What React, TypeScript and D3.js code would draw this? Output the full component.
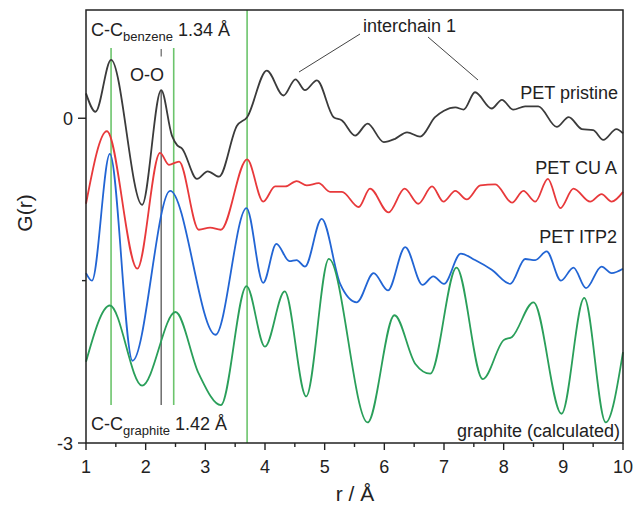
import React from "react";
import * as d3 from "d3";

const W = 635;
const H = 508;
const M = { left: 86, right: 623, top: 10, bottom: 443 };

const xDomain: [number, number] = [1, 10];
const yDomain: [number, number] = [-3, 1];
const xTicks = [1, 2, 3, 4, 5, 6, 7, 8, 9, 10];
const xMinorTicks = [1.5, 2.5, 3.5, 4.5, 5.5, 6.5, 7.5, 8.5, 9.5];
const yTicks = [0, -3];
const yMinorTicks = [-1.5];

// [r, G(r)]
const petPristine: [number, number][] = [
  [1.0, 0.23], [1.16, 0.06], [1.42, 0.54], [1.94, -0.8], [2.26, 0.26], [2.44, -0.16],
  [2.53, -0.25], [2.61, -0.28], [2.86, -0.56], [3.04, -0.49], [3.23, -0.54], [3.53, -0.07],
  [3.7, 0.01], [4.03, 0.44], [4.31, 0.21], [4.51, 0.36], [4.67, 0.26], [4.87, 0.35],
  [5.15, 0.01], [5.29, -0.02], [5.51, -0.16], [5.72, -0.05], [5.99, -0.22], [6.18, -0.19],
  [6.38, -0.13], [6.6, -0.17], [6.85, 0.01], [7.0, 0.07], [7.19, 0.1], [7.33, 0.08],
  [7.52, 0.24], [7.8, 0.09], [7.97, 0.17], [8.16, 0.08], [8.36, 0.11], [8.58, 0.11],
  [8.89, -0.08], [9.09, 0.01], [9.31, -0.1], [9.5, -0.11], [9.67, -0.2], [9.89, -0.1],
  [10.0, -0.14],
];

const petCuA: [number, number][] = [
  [1.0, -0.79], [1.35, -0.12], [1.86, -1.39], [2.24, -0.32], [2.39, -0.43], [2.56, -0.4],
  [2.89, -1.03], [3.08, -1.01], [3.26, -1.03], [3.7, -0.38], [3.97, -0.77], [4.17, -0.63],
  [4.34, -0.63], [4.53, -0.58], [4.7, -0.62], [4.9, -0.6], [5.09, -0.68], [5.29, -0.68],
  [5.57, -0.82], [5.76, -0.65], [6.07, -0.87], [6.34, -0.65], [6.57, -0.79], [6.8, -0.63],
  [6.99, -0.77], [7.19, -0.67], [7.38, -0.75], [7.61, -0.62], [7.86, -0.61], [8.14, -0.78],
  [8.33, -0.67], [8.53, -0.77], [8.74, -0.56], [8.95, -0.83], [9.17, -0.65], [9.45, -0.77],
  [9.64, -0.7], [9.81, -0.77], [10.0, -0.68],
];

const petItp2: [number, number][] = [
  [1.0, -1.43], [1.1, -1.5], [1.4, -0.33], [1.78, -2.24], [2.41, -0.67], [3.17, -2.0],
  [3.69, -0.83], [3.97, -1.52], [4.19, -1.16], [4.41, -1.32], [4.53, -1.31], [4.67, -1.37],
  [4.95, -0.93], [5.26, -1.53], [5.54, -1.7], [5.82, -1.43], [6.06, -1.59], [6.35, -1.19],
  [6.64, -1.54], [6.82, -1.46], [7.0, -1.53], [7.28, -1.25], [7.52, -1.31], [7.8, -1.4],
  [8.11, -1.53], [8.36, -1.3], [8.53, -1.31], [8.72, -1.23], [8.96, -1.5], [9.17, -1.38],
  [9.38, -1.57], [9.64, -1.37], [9.81, -1.43], [10.0, -1.39],
];

const graphite: [number, number][] = [
  [1.0, -2.25], [1.4, -1.73], [1.94, -2.47], [2.5, -1.79], [2.89, -2.36], [3.26, -2.65],
  [3.69, -1.55], [4.0, -2.11], [4.33, -1.6], [4.69, -2.57], [5.07, -1.3], [5.72, -2.81],
  [6.17, -1.82], [6.52, -2.27], [6.77, -2.36], [7.21, -1.38], [7.65, -2.41], [8.0, -2.05],
  [8.14, -2.02], [8.5, -1.7], [8.97, -2.73], [9.35, -1.66], [9.71, -2.81], [10.0, -2.16],
];

const series = [
  { name: "PET pristine", data: petPristine, color: "#3b3b3b" },
  { name: "PET CU A", data: petCuA, color: "#e8393b" },
  { name: "PET ITP2", data: petItp2, color: "#2265d4" },
  { name: "graphite (calculated)", data: graphite, color: "#2a9f5a" },
];

// reference lines: r, G from, G to
const refLinesGreen: [number, number, number][] = [
  [1.42, 0.65, -2.65],
  [2.47, 0.65, -2.65],
  [3.7, 1, -3],
];
const refLineOO: [number, number, number] = [2.26, 0.26, -2.65];
const refTickOO: [number, number, number] = [2.26, 0.64, 0.57];

export default function App() {
  const x = d3.scaleLinear().domain(xDomain).range([M.left, M.right]);
  const y = d3.scaleLinear().domain(yDomain).range([M.bottom, M.top]);
  const line = d3
    .line<[number, number]>()
    .x((d) => x(d[0]))
    .y((d) => y(d[1]))
    .curve(d3.curveMonotoneX);

  const font = "'Liberation Sans', Arial, sans-serif";
  const fs = 18;

  return (
    <svg
      width={W}
      height={H}
      style={{ position: "absolute", left: 0, top: 0, background: "#fff" }}
      fontFamily={font}
    >
      <rect x={0} y={0} width={W} height={H} fill="#fff" />
      {refLinesGreen.map((l, i) => (
        <line
          key={"g" + i}
          x1={x(l[0])}
          x2={x(l[0])}
          y1={y(l[1])}
          y2={y(l[2])}
          stroke="#6cc46c"
          strokeWidth={1.6}
        />
      ))}
      <line x1={x(refLineOO[0])} x2={x(refLineOO[0])} y1={y(refLineOO[1])} y2={y(refLineOO[2])} stroke="#555" strokeWidth={1.3} />
      <line x1={x(refTickOO[0])} x2={x(refTickOO[0])} y1={y(refTickOO[1])} y2={y(refTickOO[2])} stroke="#555" strokeWidth={1.1} />

      {series.map((s) => (
        <path key={s.name} d={line(s.data) || ""} fill="none" stroke={s.color} strokeWidth={1.8} />
      ))}

      {/* frame */}
      <rect
        x={M.left}
        y={M.top}
        width={M.right - M.left}
        height={M.bottom - M.top}
        fill="none"
        stroke="#222"
        strokeWidth={1.5}
      />

      {/* x ticks */}
      {xTicks.map((t) => (
        <g key={"xt" + t}>
          <line x1={x(t)} x2={x(t)} y1={M.bottom} y2={M.bottom + 7} stroke="#222" strokeWidth={1.4} />
          <text x={x(t)} y={473} textAnchor="middle" fontSize={fs} fill="#222">
            {t}
          </text>
        </g>
      ))}
      {xMinorTicks.map((t) => (
        <line key={"xm" + t} x1={x(t)} x2={x(t)} y1={M.bottom} y2={M.bottom + 4} stroke="#222" strokeWidth={1.4} />
      ))}
      {yTicks.map((t) => (
        <g key={"yt" + t}>
          <line x1={M.left - 8} x2={M.left} y1={y(t)} y2={y(t)} stroke="#222" strokeWidth={1.4} />
          <text x={M.left - 13} y={y(t) + 6.5} textAnchor="end" fontSize={fs} fill="#222">
            {t}
          </text>
        </g>
      ))}
      {yMinorTicks.map((t) => (
        <line key={"ym" + t} x1={M.left - 4} x2={M.left} y1={y(t)} y2={y(t)} stroke="#222" strokeWidth={1.4} />
      ))}

      {/* axis titles */}
      <text x={355} y={501} textAnchor="middle" fontSize={21} fill="#222">
        r / Å
      </text>
      <text transform="translate(32,213) rotate(-90)" textAnchor="middle" fontSize={21} fill="#222">
        G(r)
      </text>

      {/* series labels */}
      <text x={618} y={99} textAnchor="end" fontSize={fs} fill="#222">PET pristine</text>
      <text x={617} y={174} textAnchor="end" fontSize={fs} fill="#222">PET CU A</text>
      <text x={617} y={243} textAnchor="end" fontSize={fs} fill="#222">PET ITP2</text>
      <text x={620} y={437} textAnchor="end" fontSize={fs} fill="#222">graphite (calculated)</text>

      {/* annotations */}
      <text x={91} y={36} fontSize={fs} fill="#222">
        C-C
        <tspan fontSize={13} dy={5}>benzene</tspan>
        <tspan dy={-5}> 1.34 Å</tspan>
      </text>
      <text x={147} y={81} textAnchor="middle" fontSize={fs} fill="#222">O-O</text>
      <text x={91} y={430} fontSize={fs} fill="#222">
        C-C
        <tspan fontSize={13} dy={5}>graphite</tspan>
        <tspan dy={-5}> 1.42 Å</tspan>
      </text>
      <text x={363} y={32} fontSize={fs} fill="#222">interchain 1</text>
      <line x1={360} y1={34} x2={299} y2={72} stroke="#444" strokeWidth={1} />
      <line x1={428} y1={37} x2={478} y2={80} stroke="#444" strokeWidth={1} />
    </svg>
  );
}
